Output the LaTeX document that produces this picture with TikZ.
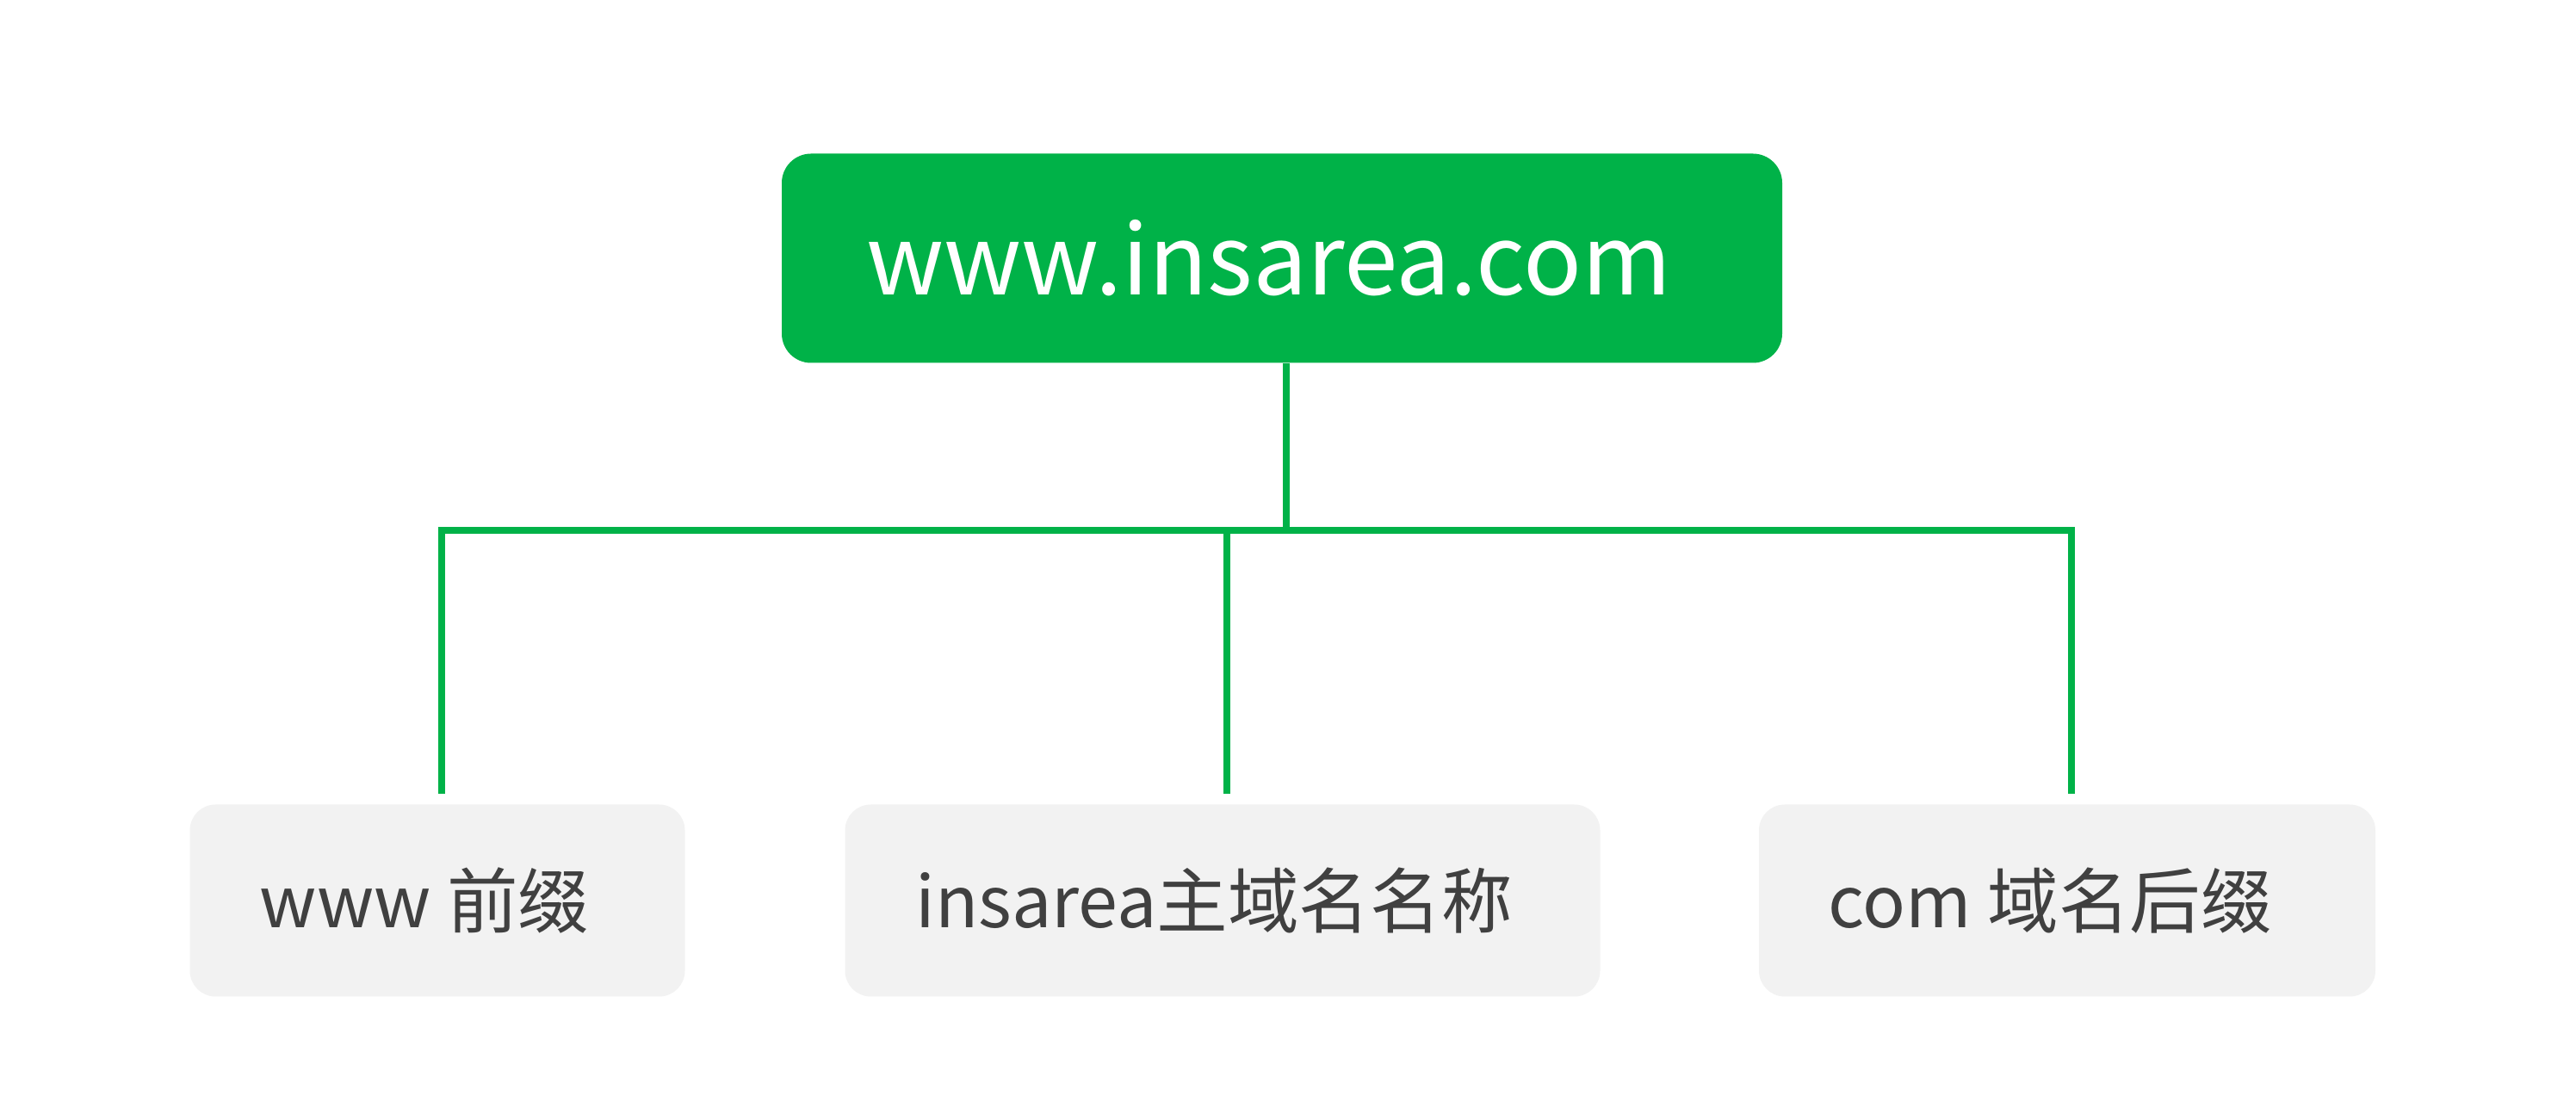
\documentclass[tikz,border=0pt]{standalone}
\usepackage{fontspec}
\setmainfont{Noto Sans CJK SC}
\usetikzlibrary{positioning}

\definecolor{domaingreen}{RGB}{0,178,72}
\definecolor{leafgray}{RGB}{242,242,242}
\definecolor{leaftext}{RGB}{64,64,64}

\begin{document}
\begin{tikzpicture}

        % Setup the styles for the boxes and links
        \tikzset{root style/.style={rectangle, rounded corners=0.34cm,
                                    fill=domaingreen,
                                    minimum width=11.62cm,
                                    minimum height=2.43cm,
                                    text=white,
                                    font=\fontsize{32}{36}\selectfont},
                 leaf style/.style={rectangle, rounded corners=0.3cm,
                                    fill=leafgray,
                                    minimum height=2.23cm,
                                    text=leaftext,
                                    font=\fontsize{23.5}{26}\selectfont},
                 link/.style={draw=domaingreen, line width=2.2pt}}

        \useasboundingbox[fill=white] (0,0) rectangle (29.92,-12.8);

        % Draw the boxes
        \node[root style] at (14.89, -3.00)  (root)  {www.insarea.com\kern0.3cm};
        \node[leaf style, minimum width=5.75cm] at (5.08, -10.46)  (www)  {www 前缀\kern0.3cm};
        \node[leaf style, minimum width=8.77cm] at (14.20, -10.46) (name) {insarea主域名名称\kern0.2cm};
        \node[leaf style, minimum width=7.16cm] at (24.01, -10.46) (com)  {com 域名后缀\kern0.4cm};

        % Connect the root with the parts
        \draw[link] ([xshift=0.05cm]root.south) -- ++(0,-1.94) coordinate (bar);
        \draw[link, shorten >=0.12cm] (bar) -| ([xshift=0.05cm]www.north);
        \draw[link, shorten >=0.12cm] (bar) -| ([xshift=0.05cm]name.north);
        \draw[link, shorten >=0.12cm] (bar) -| ([xshift=0.05cm]com.north);
\end{tikzpicture}
\end{document}
